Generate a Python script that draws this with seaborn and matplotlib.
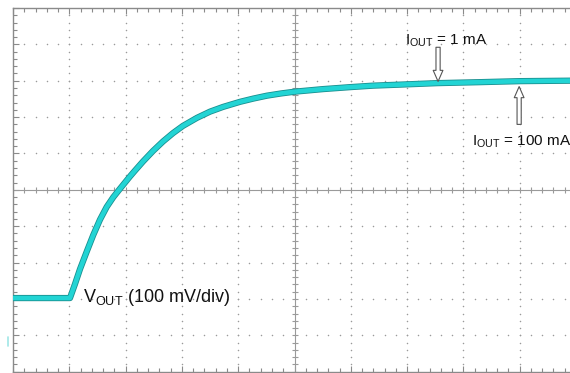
import numpy as np
import pandas as pd
import seaborn as sns
import matplotlib.pyplot as plt
import matplotlib.patheffects as pe
from matplotlib.ticker import MultipleLocator

# trace (x, y in divisions)
t_div = [0.0, 0.48, 1.012, 1.101, 1.190, 1.309, 1.426, 1.545, 1.664, 1.782, 1.900, 2.078,
         2.167, 2.309, 2.487, 2.664, 2.842, 3.020, 3.268, 3.499, 3.730, 4.032, 4.270, 4.512,
         4.760, 5.009, 5.506, 5.986, 6.394, 6.874, 7.531, 8.295, 9.005, 10.0]
v_div = [-2.975, -2.975, -2.975, -2.590, -2.180, -1.700, -1.240, -0.820, -0.470, -0.200, 0.030, 0.370,
         0.530, 0.780, 1.070, 1.330, 1.560, 1.760, 1.980, 2.150, 2.280, 2.420, 2.510, 2.590,
         2.650, 2.700, 2.770, 2.824, 2.865, 2.893, 2.934, 2.961, 2.989, 3.003]

label_lo = 'I$_{\\mathrm{OUT}}$ = 1 mA'
label_hi = 'I$_{\\mathrm{OUT}}$ = 100 mA'
label_trace = 'V$_{\\mathrm{OUT}}$ (100 mV/div)'

sns.set_style('white')
plt.rcParams['font.family'] = ['Liberation Sans', 'DejaVu Sans']
plt.rcParams['mathtext.fontset'] = 'custom'
plt.rcParams['mathtext.rm'] = 'Liberation Sans'
plt.rcParams['mathtext.it'] = 'Liberation Sans'

fig = plt.figure(figsize=(5.70, 3.73), dpi=100)
ax = fig.add_axes([13 / 570, 1.3 / 373, 563 / 570, 363.7 / 373])
ax.set_xlim(0, 10)
ax.set_ylim(-5, 5)

grid_col = '#9a9a9a'
# dotted graticule: dots every minor division along each major line
minor = np.round(np.arange(0, 10.01, 0.2), 2)
minor_y = np.round(np.arange(-5, 5.01, 0.2), 2)
for gx in range(1, 10):
    if gx == 5:
        continue
    ax.scatter(np.full(len(minor_y), gx), minor_y, s=1.2, color=grid_col, lw=0, zorder=1)
for gy in range(-4, 5):
    if gy == 0:
        continue
    ax.scatter(minor, np.full(len(minor), gy), s=1.2, color=grid_col, lw=0, zorder=1)

# centre cross with tick marks
ax.axhline(0, color=grid_col, lw=0.8, zorder=1)
ax.axvline(5, color=grid_col, lw=0.8, zorder=1)
ax.scatter(minor, np.zeros(len(minor)), marker='|', s=18, color=grid_col, lw=0.8, zorder=1)
ax.scatter(np.full(len(minor_y), 5), minor_y, marker='_', s=18, color=grid_col, lw=0.8, zorder=1)

for s in ax.spines.values():
    s.set_color('#8a8a8a')
    s.set_linewidth(1.0)
ax.xaxis.set_minor_locator(MultipleLocator(0.2))
ax.yaxis.set_minor_locator(MultipleLocator(0.2))
ax.xaxis.set_major_locator(MultipleLocator(1))
ax.yaxis.set_major_locator(MultipleLocator(1))
ax.tick_params(which='both', direction='in', top=True, right=True, bottom=True, left=True,
               labelbottom=False, labelleft=False, color='#8a8a8a')
ax.tick_params(which='major', length=4, width=0.8)
ax.tick_params(which='minor', length=3, width=0.8)

df = pd.DataFrame({'t': t_div, 'v': v_div})
sns.lineplot(data=df, x='t', y='v', ax=ax, color='#22d4d4', lw=3.3, zorder=3,
             path_effects=[pe.Stroke(linewidth=4.5, foreground='#1a8f8f', joinstyle='round'),
                           pe.Normal()])
ax.set_xlabel('')
ax.set_ylabel('')

# ground marker
ax.plot([-0.09, -0.09], [-4.05, -4.30], color='#9fe6e6', lw=1.2, clip_on=False)

arrow = dict(arrowstyle='simple,head_width=0.7,head_length=0.8,tail_width=0.3',
             fc='white', ec='#555555', lw=0.8, shrinkA=0, shrinkB=0)
ax.annotate('', xy=(7.55, 2.98), xytext=(7.55, 3.92), arrowprops=arrow, zorder=4)
ax.annotate('', xy=(8.99, 2.84), xytext=(8.99, 1.80), arrowprops=arrow, zorder=4)

ax.text(6.96, 3.98, label_lo, fontsize=11, color='#111111', ha='left', va='baseline')
ax.text(8.15, 1.22, label_hi, fontsize=11, color='#111111', ha='left', va='baseline')
ax.text(1.24, -3.08, label_trace, fontsize=13, color='#111111', ha='left', va='baseline')

fig.savefig('out.png', dpi=100)
